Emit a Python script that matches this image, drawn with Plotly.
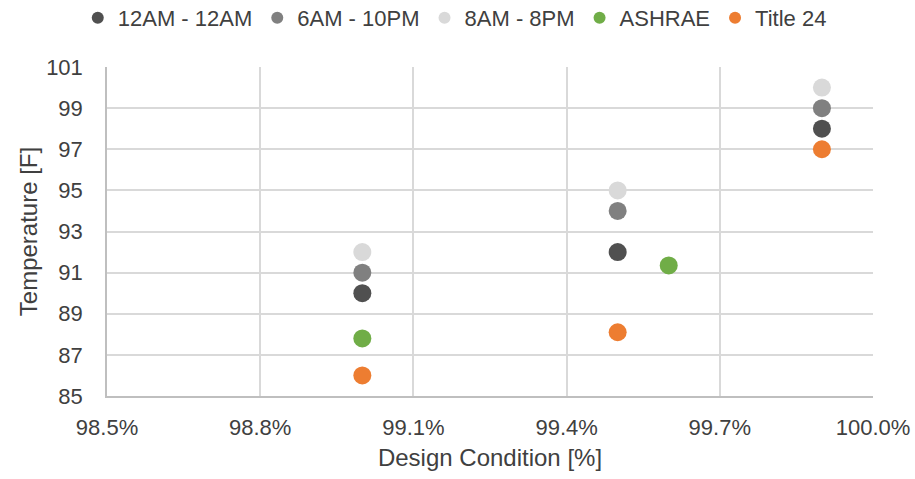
import plotly.graph_objects as go

series_names = ["12AM - 12AM", "6AM - 10PM", "8AM - 8PM", "ASHRAE", "Title 24"]
x_12am = [99.0, 99.5, 99.9]
y_12am = [90, 92, 98]
x_6am = [99.0, 99.5, 99.9]
y_6am = [91, 94, 99]
x_8am = [99.0, 99.5, 99.9]
y_8am = [92, 95, 100]
x_ashrae = [99.0, 99.6]
y_ashrae = [87.8, 91.35]
x_t24 = [99.0, 99.5, 99.9]
y_t24 = [86, 88.1, 97]
colors = ["#505050", "#808080", "#d9d9d9", "#70ad47", "#ed7d31"]

xs = [x_12am, x_6am, x_8am, x_ashrae, x_t24]
ys = [y_12am, y_6am, y_8am, y_ashrae, y_t24]

fig = go.Figure()
for name, x, y, c in zip(series_names, xs, ys, colors):
    fig.add_trace(go.Scatter(x=x, y=y, mode="markers", name=name,
                             marker=dict(color=c, size=18, line=dict(width=0))))

font_family = "Liberation Sans, Arial, sans-serif"
fig.update_layout(
    width=915, height=479,
    paper_bgcolor="white", plot_bgcolor="white",
    margin=dict(l=107, r=42, t=67, b=83, autoexpand=False),
    font=dict(family=font_family, size=22, color="#404040"),
    legend=dict(orientation="h", x=0.454, xanchor="center", y=1.149, yanchor="middle",
                font=dict(size=22, color="#404040"),
                itemsizing="constant", traceorder="normal"),
    showlegend=True,
)
fig.update_xaxes(range=[98.5, 100.0], dtick=0.3, tick0=98.5, tickformat=".1f", ticksuffix="%",
                 showgrid=True, gridcolor="#d9d9d9", gridwidth=1.5,
                 showline=True, linecolor="#bfbfbf", linewidth=1.5, zeroline=False,
                 ticks="", ticklabelstandoff=11, automargin=False,
                 title=dict(text="Design Condition [%]", font=dict(size=24), standoff=10))
fig.update_yaxes(range=[85, 101], dtick=2, tick0=85,
                 showgrid=True, gridcolor="#d9d9d9", gridwidth=1.5,
                 showline=True, linecolor="#bfbfbf", linewidth=1.5, zeroline=False,
                 ticks="", ticklabelstandoff=18, automargin=False,
                 title=dict(text="Temperature [F]", font=dict(size=24), standoff=2))
fig.write_html("out.html", config={"displayModeBar": False},
               post_script="document.body.style.margin='0';document.body.style.overflow='hidden';")
